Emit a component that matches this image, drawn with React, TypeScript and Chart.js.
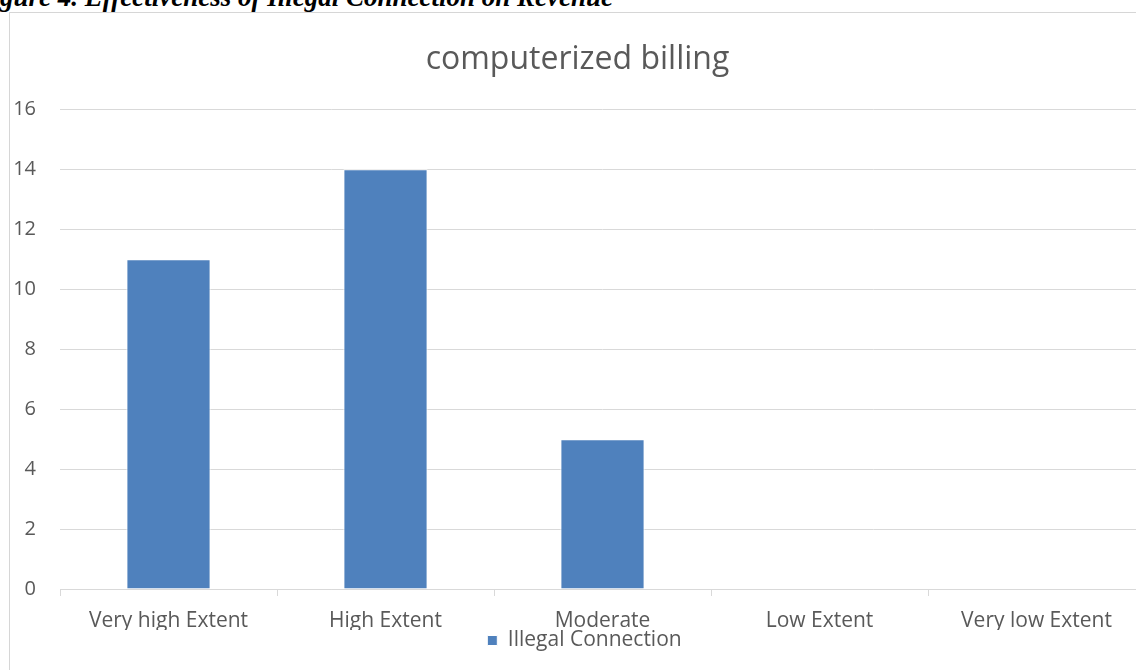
import React, { useEffect, useRef } from "react";
import { Chart, registerables } from "chart.js";

Chart.register(...registerables);

const figureCaption = "Figure 4. Effectiveness of Illegal Connection on Revenue";
const chartTitle = "computerized billing";
const categories = ["Very high Extent", "High Extent", "Moderate", "Low Extent", "Very low Extent"];
const seriesLabel = "Illegal Connection";
const illegalConnection = [11, 14, 5, 0, 0];
const yMin = 0;
const yMax = 16;
const yStep = 2;

const FONT = "'Open Sans', sans-serif";
const TEXT = "#595959";
const GRID = "#D9D9D9";
const BAR = "#4F81BD";

const shiftLegend = {
  id: "shiftLegend",
  afterLayout(chart: any) {
    const l = chart.legend;
    if (l) {
      l.left += 7;
      l.right += 7;
    }
  },
};

export default function App() {
  const ref = useRef<HTMLCanvasElement | null>(null);

  useEffect(() => {
    if (!ref.current) return;
    const chart = new Chart(ref.current, {
      type: "bar",
      data: {
        labels: categories,
        datasets: [
          {
            label: seriesLabel,
            data: illegalConnection,
            backgroundColor: BAR,
            borderColor: "#ffffff",
            borderWidth: 1,
            barPercentage: 0.388,
            categoryPercentage: 1,
          },
        ],
      },
      plugins: [shiftLegend],
      options: {
        responsive: false,
        animation: false,
        layout: { padding: { left: 0, right: 13, top: 0, bottom: 2 } },
        plugins: {
          title: {
            display: true,
            text: chartTitle,
            color: TEXT,
            font: { family: FONT, size: 32, weight: "normal" },
            padding: { top: 28, bottom: 30 },
          },
          legend: {
            position: "bottom",
            labels: {
              boxWidth: 10,
              boxHeight: 10,
              padding: 0,
              color: TEXT,
              font: { family: FONT, size: 21 },
            },
          },
          tooltip: { enabled: false },
        },
        scales: {
          x: {
            grid: {
              offset: true,
              drawOnChartArea: false,
              drawTicks: true,
              tickLength: 7,
              color: GRID,
            },
            border: { display: true, color: GRID, width: 1 },
            ticks: {
              color: TEXT,
              font: { family: FONT, size: 21, lineHeight: 1.05 },
              padding: 14,
              maxRotation: 0,
              autoSkip: false,
            },
            afterFit: (s: any) => {
              s.height = 41;
            },
          },
          y: {
            min: yMin,
            max: yMax,
            ticks: {
              stepSize: yStep,
              color: TEXT,
              font: { family: FONT, size: 20 },
              padding: 24,
            },
            grid: { color: GRID, drawTicks: false },
            border: { display: false },
            afterFit: (s: any) => {
              s.width = 50;
            },
          },
        },
      },
    });
    return () => chart.destroy();
  }, []);

  return (
    <div style={{ position: "fixed", inset: 0, overflow: "hidden", background: "#fff" }}>
      <div
        style={{
          position: "absolute",
          left: -25.5,
          top: -15.6,
          fontFamily: "'Liberation Serif', serif",
          fontWeight: "bold",
          fontStyle: "italic",
          fontSize: 27,
          lineHeight: "27px",
          whiteSpace: "nowrap",
          color: "#000",
        }}
      >
        {figureCaption}
      </div>
      <div
        style={{
          position: "absolute",
          left: 9,
          top: 12,
          width: 1200,
          height: 700,
          border: "1px solid #D6D6D6",
          boxSizing: "border-box",
        }}
      >
        <canvas ref={ref} width={1148} height={650} style={{ display: "block", width: 1148, height: 650 }} />
      </div>
    </div>
  );
}
